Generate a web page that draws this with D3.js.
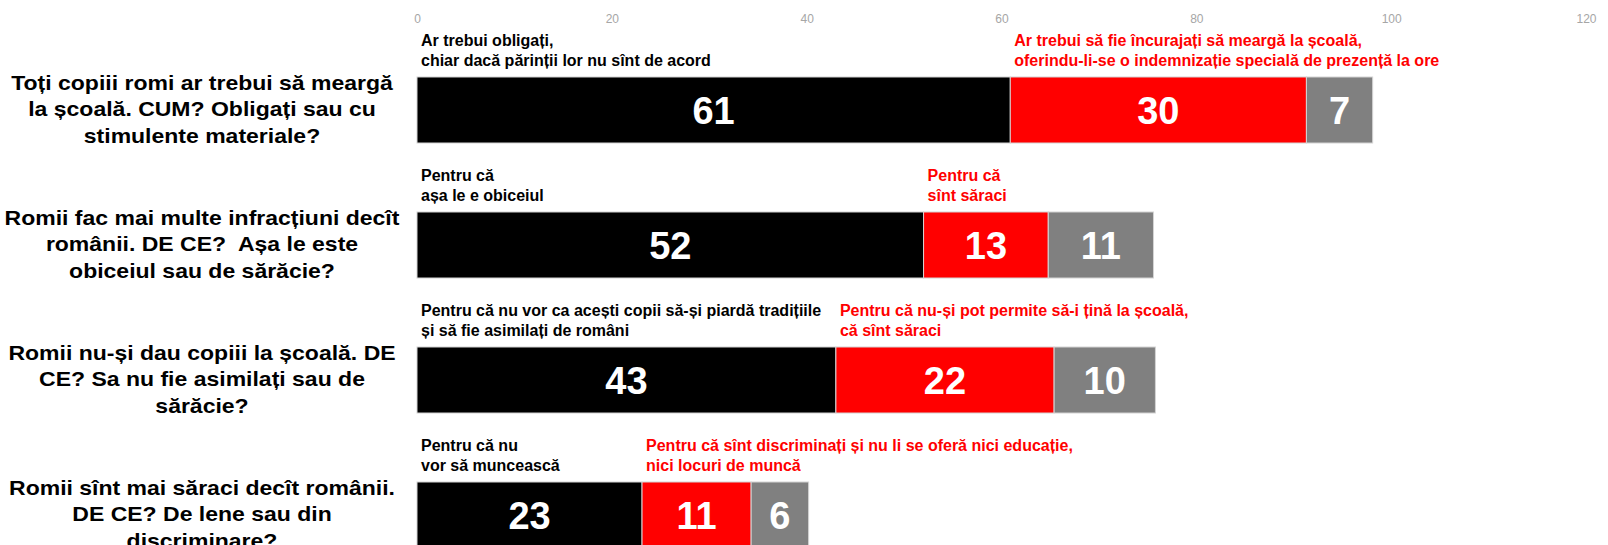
<!DOCTYPE html>
<html>
<head>
<meta charset="utf-8">
<script src="https://cdn.jsdelivr.net/npm/d3@7"></script>
<style>
  html, body { margin: 0; padding: 0; background: #fff; overflow: hidden; }
  .axis text { font-family: "Liberation Sans", Arial, sans-serif; font-size: 12px; fill: #a6a6a6; }
  .axis .domain { display: none; }
  .qlabel { font-family: "Liberation Sans", Arial, sans-serif; font-weight: bold; font-size: 19.5px; fill: #000; white-space: pre; }
  .note { font-family: "Liberation Sans", Arial, sans-serif; font-weight: bold; font-size: 16px; }
  .val { font-family: "Liberation Sans", Arial, sans-serif; font-weight: bold; font-size: 38px; fill: #fff; }
</style>
</head>
<body>
<div class="chart" style="width:1608px;height:545px;"></div>
<script>
var questions = ["q1", "q2", "q3", "q4"];
var questionLines = [
  ["Toți copiii romi ar trebui să meargă", "la școală. CUM? Obligați sau cu", "stimulente materiale?"],
  ["Romii fac mai multe infracțiuni decît", "românii. DE CE?  Așa le este", "obiceiul sau de sărăcie?"],
  ["Romii nu-și dau copiii la școală. DE", "CE? Sa nu fie asimilați sau de", "sărăcie?"],
  ["Romii sînt mai săraci decît românii.", "DE CE? De lene sau din", "discriminare?"]
];
// values; labels show them rounded
var firstAnswer = [60.9, 52, 43, 23.1];
var secondAnswer = [30.4, 12.8, 22.4, 11.2];
var otherAnswer = [6.8, 10.8, 10.4, 5.9];
var firstNotes = [
  ["Ar trebui obligați,", "chiar dacă părinții lor nu sînt de acord"],
  ["Pentru că", "așa le e obiceiul"],
  ["Pentru că nu vor ca acești copii să-și piardă tradițiile", "și să fie asimilați de români"],
  ["Pentru că nu", "vor să muncească"]
];
var secondNotes = [
  ["Ar trebui să fie încurajați să meargă la școală,", "oferindu-li-se o indemnizație specială de prezență la ore"],
  ["Pentru că", "sînt săraci"],
  ["Pentru că nu-și pot permite să-i țină la școală,", "că sînt săraci"],
  ["Pentru că sînt discriminați și nu li se oferă nici educație,", "nici locuri de muncă"]
];
var tickValues = [0, 20, 40, 60, 80, 100, 120];
var seriesColors = ["#000000", "#ff0000", "#808080"];

var eleChart = d3.select(".chart"),
    W = 1608, H = 545,
    labelX = 202,
    labelStretch = 1.18;

var svg = eleChart.append("svg").attr("width", W).attr("height", H);

var rows = questions.map(function(q, i) {
  return {q: q, a: firstAnswer[i], b: secondAnswer[i], c: otherAnswer[i]};
});

var x = d3.scaleLinear().domain([0, 120]).range([417, 1586]);
var y = d3.scaleBand().domain(questions).range([8, 617]).paddingInner(0.511).paddingOuter(0.511);

var stack = d3.stack().keys(["a", "b", "c"]);
var layers = stack(rows);

// axis on top
svg.append("g")
    .attr("class", "axis")
    .attr("transform", "translate(0,23)")
    .call(d3.axisTop(x).tickValues(tickValues).tickSize(0).tickPadding(0));

// bars
var layer = svg.selectAll(".layer")
  .data(layers)
  .enter().append("g")
    .attr("class", "layer")
    .attr("fill", function(d, i) { return seriesColors[i]; });

layer.selectAll("rect")
  .data(function(d) { return d; })
  .enter().append("rect")
    .attr("x", function(d) { return x(d[0]); })
    .attr("y", function(d) { return y(d.data.q); })
    .attr("width", function(d) { return x(d[1]) - x(d[0]); })
    .attr("height", y.bandwidth())
    .attr("stroke", "#d4d4d4")
    .attr("stroke-width", 1);

// values
layer.selectAll("text")
  .data(function(d) { return d; })
  .enter().append("text")
    .attr("class", "val")
    .attr("x", function(d) { return (x(d[0]) + x(d[1])) / 2; })
    .attr("y", function(d) { return y(d.data.q) + y.bandwidth() / 2; })
    .attr("dy", "0.36em")
    .attr("text-anchor", "middle")
    .text(function(d) { return Math.round(d[1] - d[0]); });

// notes above bars
function addNotes(notes, startFn, color) {
  svg.selectAll(null)
    .data(rows)
    .enter().append("text")
      .attr("class", "note")
      .attr("fill", color)
      .attr("y", function(d) { return y(d.q) - 31; })
      .each(function(d, i) {
        var t = d3.select(this);
        notes[i].forEach(function(line, j) {
          t.append("tspan")
            .attr("x", startFn(d) + 4)
            .attr("dy", j === 0 ? 0 : 20)
            .text(line);
        });
      });
}
addNotes(firstNotes, function(d) { return x(0); }, "#000");
addNotes(secondNotes, function(d) { return x(d.a); }, "#ff0000");

// question labels
svg.selectAll(".qlabel")
  .data(rows)
  .enter().append("g")
    .attr("transform", function(d) {
      return "translate(" + labelX + "," + (y(d.q) + y.bandwidth() / 2 - 20) + ") scale(" + labelStretch + ",1)";
    })
  .append("text")
    .attr("class", "qlabel")
    .attr("text-anchor", "middle")
    .each(function(d, i) {
      var t = d3.select(this);
      questionLines[i].forEach(function(line, j) {
        t.append("tspan")
          .attr("x", 0)
          .attr("dy", j === 0 ? 0 : 26.5)
          .text(line);
      });
    });
</script>
</body>
</html>
